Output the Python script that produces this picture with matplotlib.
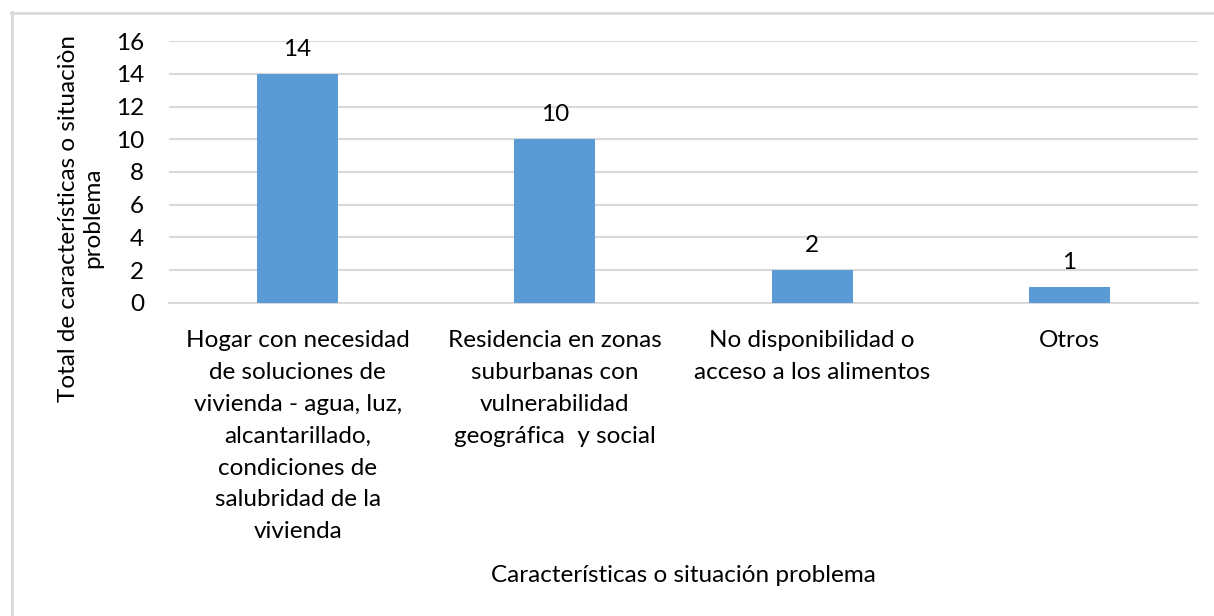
import matplotlib.pyplot as plt
from matplotlib.lines import Line2D

plt.rcParams['font.family'] = ['Lato', 'DejaVu Sans']

categories = [
    'Hogar con necesidad\nde soluciones de\nvivienda - agua, luz,\nalcantarillado,\ncondiciones de\nsalubridad de la\nvivienda',
    'Residencia en zonas\nsuburbanas con\nvulnerabilidad\ngeográfica  y social',
    'No disponibilidad o\nacceso a los alimentos',
    'Otros',
]
totals = [14, 10, 2, 1]
yticks = [0, 2, 4, 6, 8, 10, 12, 14, 16]

W, H = 1214, 616
fig = plt.figure(figsize=(W / 100, H / 100), dpi=100)
ax = fig.add_axes([169 / W, 1 - 303 / H, (1198 - 169) / W, (303 - 41) / H])

grid = '#d9d9d9'
x = range(len(categories))
bars = ax.bar(x, totals, width=0.315, color='#5b9bd5', zorder=3)
for b, v in zip(bars, totals):
    ax.annotate(str(v), (b.get_x() + b.get_width() / 2, v),
                xytext=(0, 10), textcoords='offset points',
                ha='center', va='bottom', fontsize=17.5)

ax.set_xlim(-0.5, len(categories) - 0.5)
ax.set_ylim(0, 16)
ax.set_yticks(yticks)
ax.set_xticks(list(x))
ax.set_xticklabels(categories, fontsize=17.5, linespacing=1.64)
ax.tick_params(axis='y', length=0, pad=18, labelsize=17.5)
ax.tick_params(axis='x', length=0, pad=19.5)
ax.yaxis.grid(True, color=grid, linewidth=1.5, zorder=0)
for s in ['top', 'right', 'left']:
    ax.spines[s].set_visible(False)
ax.spines['bottom'].set_color(grid)
ax.spines['bottom'].set_linewidth(1.5)

fig.text(683 / W, 1 - 576 / H, 'Características o situación problema',
         ha='center', va='center', fontsize=17.5)
fig.text(81 / W, 1 - 218 / H, 'Total de características o situaciòn\nproblema',
         ha='center', va='center', rotation=90, multialignment='center',
         fontsize=17.5, linespacing=1.2)

# outer chart frame (left and top edges)
fig.add_artist(Line2D([11.5 / W, 11.5 / W], [0, 1 - 12 / H], color=grid, lw=2,
                      transform=fig.transFigure))
fig.add_artist(Line2D([11 / W, 1], [1 - 12.5 / H, 1 - 12.5 / H], color=grid, lw=2,
                      transform=fig.transFigure))

fig.savefig('out.png', dpi=100)
